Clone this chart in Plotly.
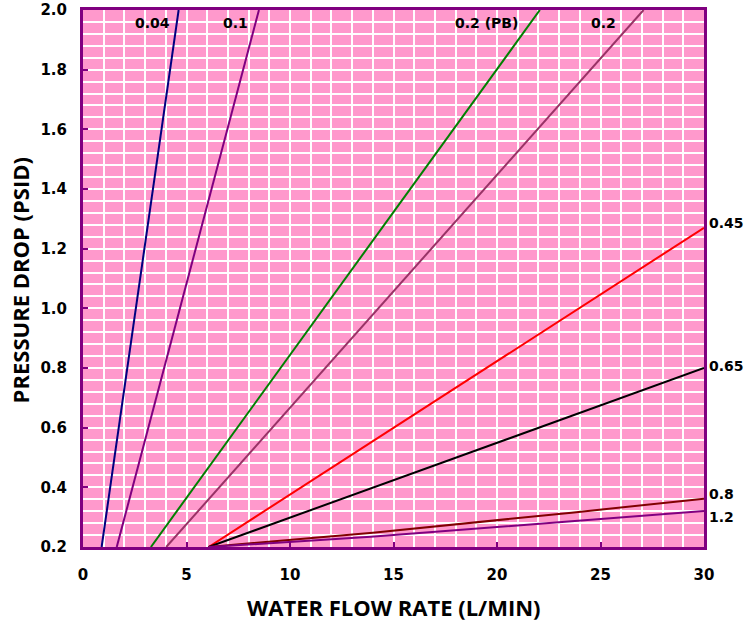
import plotly.graph_objects as go

# Data
flow_004 = [0.9, 4.62]
dp_004 = [0.2, 2.0]
flow_01 = [1.63, 8.5]
dp_01 = [0.2, 2.0]
flow_pb = [3.28, 22.07]
dp_pb = [0.2, 2.0]
flow_02 = [4.02, 27.08]
dp_02 = [0.2, 2.0]
flow_045 = [6.07, 30.0]
dp_045 = [0.2, 1.27]
flow_065 = [6.07, 30.0]
dp_065 = [0.2, 0.80]
flow_08 = [6.07, 14.0, 23.6, 30.0]
dp_08 = [0.2, 0.248, 0.315, 0.362]
flow_12 = [6.07, 13.9, 23.6, 30.0]
dp_12 = [0.2, 0.234, 0.286, 0.321]

series = [
    ("0.04", flow_004, dp_004, "#000080"),
    ("0.1", flow_01, dp_01, "#800080"),
    ("0.2 (PB)", flow_pb, dp_pb, "#008000"),
    ("0.2", flow_02, dp_02, "#993366"),
    ("0.45", flow_045, dp_045, "#FF0000"),
    ("0.65", flow_065, dp_065, "#000000"),
    ("0.8", flow_08, dp_08, "#800000"),
    ("1.2", flow_12, dp_12, "#800080"),
]

top_labels = ["0.04", "0.1", "0.2 (PB)", "0.2"]
top_label_x = [3.34, 7.37, 19.5, 25.14]
top_label_y = [1.955, 1.955, 1.955, 1.955]
right_labels = ["0.45", "0.65", "0.8", "1.2"]
right_label_y = [1.285, 0.807, 0.379, 0.30]

x_title = "WATER FLOW RATE (L/MIN)"
y_title = "PRESSURE DROP (PSID)"

fig = go.Figure()
for name, xs, ys, col in series:
    fig.add_trace(go.Scatter(x=xs, y=ys, mode="lines", name=name,
                             line=dict(color=col, width=2), showlegend=False,
                             cliponaxis=True))

tickfont = dict(family="DejaVu Sans", size=15, color="#000000", weight="bold")
labfont = dict(family="DejaVu Sans", size=14, color="#000000", weight="bold")
for t, x, y in zip(top_labels, top_label_x, top_label_y):
    fig.add_annotation(x=x, y=y, text=t, showarrow=False, xanchor="center",
                       yanchor="middle", font=labfont)
for t, y in zip(right_labels, right_label_y):
    fig.add_annotation(x=30, y=y, text=t, showarrow=False, xanchor="left",
                       yanchor="middle", xshift=3, font=labfont)

titlefont = dict(family="Open Sans", size=22, color="#000000", weight="bold")
fig.add_annotation(xref="paper", yref="paper", x=0.5, y=-0.112, text=x_title,
                   showarrow=False, xanchor="center", yanchor="middle",
                   font=titlefont)
fig.add_annotation(xref="paper", yref="paper", x=-0.101, y=0.497, text=y_title,
                   showarrow=False, xanchor="center", yanchor="middle",
                   textangle=-90, font=titlefont)

axis_color = "#800080"
fig.update_xaxes(range=[0, 30], dtick=5, tick0=0, showgrid=True, gridcolor="white",
                 gridwidth=2, zeroline=False, showline=True, linecolor=axis_color,
                 linewidth=3, mirror=True, ticks="inside", ticklen=5,
                 tickcolor=axis_color, tickwidth=2, tickfont=tickfont,
                 ticklabelstandoff=12, automargin=False,
                 minor=dict(dtick=1, showgrid=True, gridcolor="white", gridwidth=2))
fig.update_yaxes(range=[0.2, 2.0], dtick=0.2, tick0=0.2, tickformat=".1f",
                 showgrid=True, gridcolor="white", gridwidth=2, zeroline=False,
                 showline=True, linecolor=axis_color, linewidth=3, mirror=True,
                 ticks="inside", ticklen=5, tickcolor=axis_color, tickwidth=2,
                 tickfont=tickfont, ticklabelstandoff=10, automargin=False,
                 ticklabeloverflow="allow",
                 minor=dict(dtick=0.04, tick0=0.2, showgrid=True, gridcolor="white",
                            gridwidth=2))

fig.update_layout(width=747, height=623, plot_bgcolor="#FF99CC",
                  paper_bgcolor="white",
                  margin=dict(l=83, r=43, t=10, b=76, autoexpand=False))

# Remove the default 8px page margin so the figure sits at the page origin.
fig.write_html("out.html", config={"displayModeBar": False},
               post_script="document.body.style.margin='0px';")
